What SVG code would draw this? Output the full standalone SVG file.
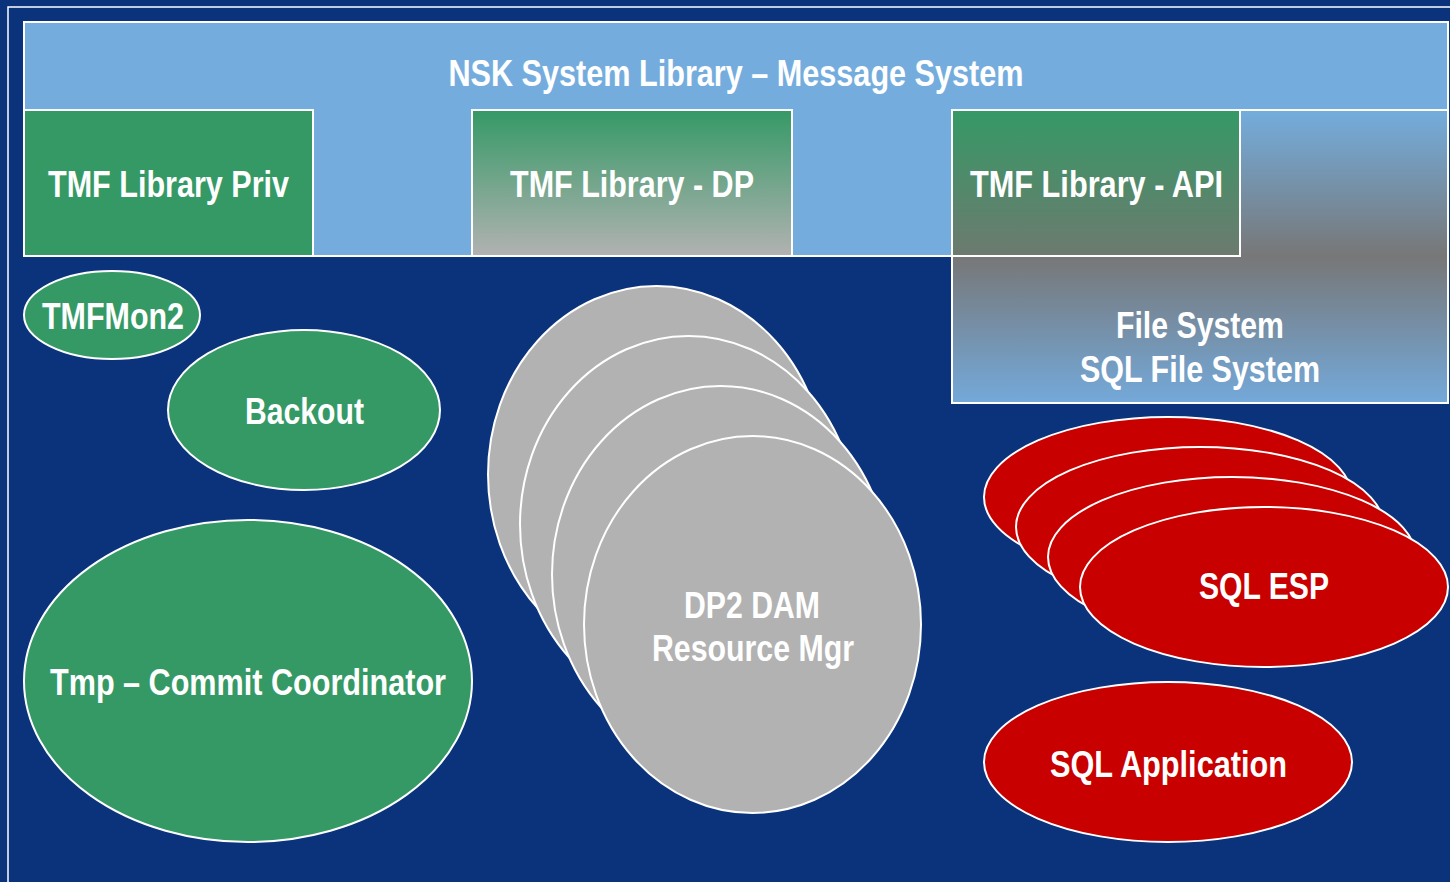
<svg xmlns="http://www.w3.org/2000/svg" width="1450" height="882" viewBox="0 0 1450 882">
<style>
.t{font-family:"Liberation Sans",Arial,sans-serif;font-weight:bold;fill:#ffffff;text-anchor:middle;font-size:36px}
.s{stroke:#ffffff;stroke-width:2}
.g{fill:#359966}
.gr{fill:#b2b2b2}
.r{fill:#c80000}
</style>
<defs>
<linearGradient id="gDP" x1="0" y1="0" x2="0" y2="1">
<stop offset="0" stop-color="#359966"/>
<stop offset="1" stop-color="#b2b2b2"/>
</linearGradient>
<linearGradient id="gAPI" x1="0" y1="0" x2="0" y2="1">
<stop offset="0" stop-color="#359966"/>
<stop offset="1" stop-color="#6d7a6f"/>
</linearGradient>
<linearGradient id="gFS" x1="0" y1="0" x2="0" y2="1">
<stop offset="0" stop-color="#74addd"/>
<stop offset="0.5" stop-color="#777777"/>
<stop offset="1" stop-color="#74a9da"/>
</linearGradient>
</defs>
<rect x="0" y="0" width="1450" height="882" fill="#0a337c"/>
<rect x="8" y="7" width="1460" height="900" fill="none" stroke="#ffffff" stroke-width="1.5"/>

<g id="nsk">
<rect class="s" x="24" y="22" width="1424" height="234" fill="#74addd"/>
<text class="t" x="736" y="86" textLength="575" lengthAdjust="spacingAndGlyphs">NSK System Library – Message System</text>
</g>
<g id="filesystem">
<rect class="s" x="952" y="110" width="496" height="293" fill="url(#gFS)"/>
<text class="t" x="1200" y="338" textLength="168" lengthAdjust="spacingAndGlyphs">File System</text>
<text class="t" x="1200" y="382" textLength="240" lengthAdjust="spacingAndGlyphs">SQL File System</text>
</g>
<g id="tmfpriv">
<rect class="s g" x="24" y="110" width="289" height="146"/>
<text class="t" x="168.5" y="197" textLength="241" lengthAdjust="spacingAndGlyphs">TMF Library Priv</text>
</g>
<g id="tmfdp">
<rect class="s" x="472" y="110" width="320" height="146" fill="url(#gDP)"/>
<text class="t" x="632" y="197" textLength="244" lengthAdjust="spacingAndGlyphs">TMF Library - DP</text>
</g>
<g id="tmfapi">
<rect class="s" x="952" y="110" width="288" height="146" fill="url(#gAPI)"/>
<text class="t" x="1096.5" y="197" textLength="253" lengthAdjust="spacingAndGlyphs">TMF Library - API</text>
</g>

<g id="tmfmon2">
<ellipse class="s g" cx="112" cy="315" rx="88" ry="44"/>
<text class="t" x="113" y="329" textLength="142" lengthAdjust="spacingAndGlyphs">TMFMon2</text>
</g>
<g id="backout">
<ellipse class="s g" cx="304" cy="410" rx="136" ry="80"/>
<text class="t" x="304.5" y="424" textLength="119" lengthAdjust="spacingAndGlyphs">Backout</text>
</g>
<g id="tmp">
<ellipse class="s g" cx="248" cy="681" rx="224" ry="161"/>
<text class="t" x="248" y="695" textLength="396" lengthAdjust="spacingAndGlyphs">Tmp – Commit Coordinator</text>
</g>

<g id="dp2">
<ellipse class="s gr" cx="656.5" cy="474.5" rx="168.5" ry="188.5"/>
<ellipse class="s gr" cx="688.5" cy="524.5" rx="168.5" ry="188.5"/>
<ellipse class="s gr" cx="720.5" cy="574.5" rx="168.5" ry="188.5"/>
<ellipse class="s gr" cx="752.5" cy="624.5" rx="168.5" ry="188.5"/>
<text class="t" x="752" y="618" textLength="136" lengthAdjust="spacingAndGlyphs">DP2 DAM</text>
<text class="t" x="753" y="661" textLength="202" lengthAdjust="spacingAndGlyphs">Resource Mgr</text>
</g>

<g id="sqlesp">
<ellipse class="s r" cx="1168" cy="497" rx="184" ry="80"/>
<ellipse class="s r" cx="1200" cy="527" rx="184" ry="80"/>
<ellipse class="s r" cx="1232" cy="557" rx="184" ry="80"/>
<ellipse class="s r" cx="1264" cy="587" rx="184" ry="80"/>
<text class="t" x="1264" y="599" textLength="130" lengthAdjust="spacingAndGlyphs">SQL ESP</text>
</g>
<g id="sqlapp">
<ellipse class="s r" cx="1168" cy="762" rx="184" ry="80"/>
<text class="t" x="1168.5" y="777" textLength="237" lengthAdjust="spacingAndGlyphs">SQL Application</text>
</g>
<g id="connectors"/>
</svg>
